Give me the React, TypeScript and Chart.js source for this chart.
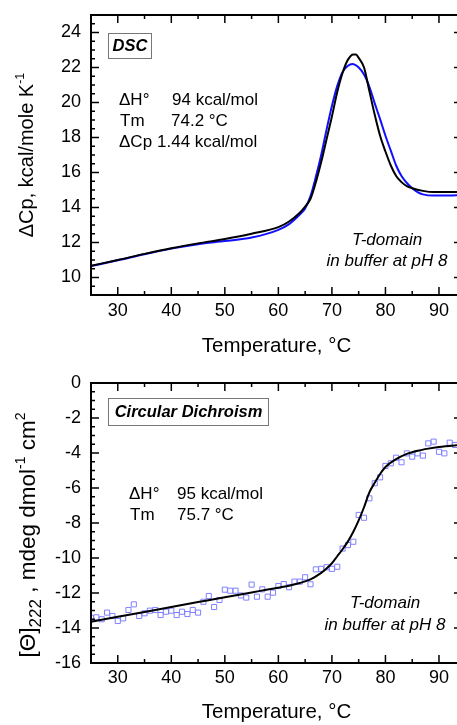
import React, { useEffect, useRef } from 'react';
import { Chart, registerables } from 'chart.js';
Chart.register(...registerables);

const FONT = '"Liberation Sans", Arial, Helvetica, sans-serif';

// ---------- tick labels ----------
const TEMP_TICKS = [30, 40, 50, 60, 70, 80, 90];
const DSC_Y_TICKS = [10, 12, 14, 16, 18, 20, 22, 24];
const CD_Y_TICKS = [-16, -14, -12, -10, -8, -6, -4, -2, 0];

// ---------- DSC: fitted curve (black) ----------
const DSC_FIT_T = [25, 30, 35, 40, 45, 50, 55, 60, 62, 64, 65, 66, 67, 68, 69, 70, 71, 72, 73, 74, 74.5, 75, 76, 77, 78, 79, 80, 81, 82, 83, 84, 85, 87, 89, 91, 94.3];
const DSC_FIT_CP = [10.67, 11.0, 11.35, 11.67, 11.95, 12.2, 12.5, 12.88, 13.2, 13.7, 14.05, 14.5, 15.45, 16.6, 17.9, 19.2, 20.6, 21.7, 22.45, 22.75, 22.75, 22.55, 22.0, 20.65, 19.3, 18.1, 17.2, 16.4, 15.8, 15.45, 15.22, 15.1, 14.95, 14.88, 14.88, 14.9];

// ---------- DSC: measured curve (blue) ----------
const DSC_EXP_T = [25, 30, 35, 40, 45, 50, 55, 60, 62, 64, 65, 66, 67, 68, 69, 70, 71, 72, 73, 73.8, 75, 76, 77, 78, 79, 80, 81, 82, 83, 84, 85, 86, 87, 89, 91, 94.3];
const DSC_EXP_CP = [10.65, 10.98, 11.33, 11.65, 11.9, 12.08, 12.28, 12.72, 13.05, 13.6, 13.95, 14.65, 15.75, 17.0, 18.45, 19.8, 20.95, 21.75, 22.1, 22.2, 22.0, 21.6, 20.9, 19.95, 19.05, 18.1, 17.25, 16.4, 15.8, 15.4, 15.1, 14.88, 14.75, 14.68, 14.68, 14.72];

// ---------- CD: measured points ----------
const CD_T = [25, 26, 27, 28, 29, 30, 31, 32, 33, 34, 35, 36, 37, 38, 39, 40, 41, 42, 43, 44, 45, 46, 47, 48, 49, 50, 51, 52, 53, 54, 55, 56, 57, 58, 59, 60, 61, 62, 63, 64, 65, 66, 67, 68, 69, 70, 71, 72, 73, 74, 75, 76, 77, 78, 79, 80, 81, 82, 83, 84, 85, 86, 87, 88, 89, 90, 91, 92, 93];
const CD_THETA = [-13.42, -13.39, -13.5, -13.12, -13.31, -13.6, -13.45, -12.97, -12.65, -13.31, -13.16, -13.01, -12.97, -13.26, -13.07, -13.01, -13.26, -13.07, -13.2, -12.97, -13.12, -12.5, -12.17, -12.8, -12.4, -11.81, -11.87, -11.87, -12.14, -12.26, -11.52, -12.21, -11.79, -12.21, -11.98, -11.6, -11.49, -11.67, -11.35, -11.35, -11.1, -11.5, -10.65, -10.62, -10.53, -10.62, -10.5, -9.46, -9.26, -9.07, -7.54, -7.7, -6.59, -5.73, -5.39, -4.74, -4.59, -4.27, -4.53, -4.02, -4.21, -4.02, -4.15, -3.45, -3.35, -3.93, -4.02, -3.41, -3.54];

// ---------- CD: fitted curve ----------
const CD_FIT_T = [25, 30, 35, 40, 45, 50, 55, 58, 62, 64, 66, 68, 69, 70, 71, 72, 73, 74, 75, 76, 77, 78, 79, 80, 82, 84, 86, 88, 90, 94.3];
const CD_FIT_THETA = [-13.64, -13.36, -13.08, -12.8, -12.52, -12.24, -11.97, -11.8, -11.58, -11.43, -11.22, -10.85, -10.6, -10.3, -9.9, -9.5, -9.05, -8.5, -7.85, -7.1, -6.25, -5.7, -5.2, -4.8, -4.35, -4.05, -3.87, -3.75, -3.66, -3.53];

const pts = (xs: number[], ys: number[]) => xs.map((x, i) => ({ x, y: ys[i] }));

type Seg = { t: string; size: number; dy?: number };
type TextItem = { t: string; x: number; y: number; font: string; align?: CanvasTextAlign };
type DecoSpec = {
  xMinor: number; xMajor: number; yMinor: number; yMajor: number;
  box: { x: number; y: number; w: number; h: number; text: string };
  texts: TextItem[];
  yTitle: { segs: Seg[]; cx: number; cy: number };
};

function makeDeco(spec: DecoSpec) {
  return {
    id: 'deco',
    afterDraw(chart: any) {
      const { ctx, chartArea: a } = chart;
      const xs = chart.scales.x;
      const ys = chart.scales.y;
      ctx.save();
      ctx.strokeStyle = '#000';
      ctx.lineWidth = 1.5;
      const line = (x1: number, y1: number, x2: number, y2: number) => {
        ctx.beginPath(); ctx.moveTo(x1, y1); ctx.lineTo(x2, y2); ctx.stroke();
      };
      for (let i = Math.ceil(xs.min / spec.xMinor); i * spec.xMinor <= xs.max + 1e-9; i++) {
        const v = i * spec.xMinor;
        const p = xs.getPixelForValue(v);
        if (p - a.left < 2 || a.right - p < 2) continue;
        const major = Math.abs(v / spec.xMajor - Math.round(v / spec.xMajor)) < 1e-6;
        const L = major ? 8 : 4;
        line(p, a.bottom, p, a.bottom - L);
        line(p, a.top, p, a.top + L);
      }
      for (let i = Math.ceil(ys.min / spec.yMinor); i * spec.yMinor <= ys.max + 1e-9; i++) {
        const v = i * spec.yMinor;
        const p = ys.getPixelForValue(v);
        if (p - a.top < 2 || a.bottom - p < 2) continue;
        const major = Math.abs(v / spec.yMajor - Math.round(v / spec.yMajor)) < 1e-6;
        const L = major ? 8 : 4;
        line(a.left, p, a.left + L, p);
        line(a.right, p, a.right - L, p);
      }
      ctx.lineWidth = 2;
      ctx.strokeRect(a.left, a.top, a.right - a.left, a.bottom - a.top);

      const b = spec.box;
      ctx.fillStyle = '#fff';
      ctx.fillRect(b.x, b.y, b.w, b.h);
      ctx.strokeStyle = '#777';
      ctx.lineWidth = 1;
      ctx.strokeRect(b.x + 0.5, b.y + 0.5, b.w, b.h);
      ctx.fillStyle = '#000';
      ctx.font = `italic bold 16.5px ${FONT}`;
      ctx.textAlign = 'center';
      ctx.textBaseline = 'middle';
      ctx.fillText(b.text, b.x + b.w / 2 + 0.5, b.y + b.h / 2 + 1);

      for (const t of spec.texts) {
        ctx.font = t.font;
        ctx.textAlign = t.align || 'left';
        ctx.textBaseline = 'middle';
        ctx.fillText(t.t, t.x, t.y);
      }

      const yt = spec.yTitle;
      ctx.save();
      ctx.translate(yt.cx, yt.cy);
      ctx.rotate(-Math.PI / 2);
      ctx.textAlign = 'left';
      ctx.textBaseline = 'alphabetic';
      let total = 0;
      const widths = yt.segs.map((s) => {
        ctx.font = `${s.size}px ${FONT}`;
        const w = ctx.measureText(s.t).width;
        total += w;
        return w;
      });
      let x = -total / 2;
      yt.segs.forEach((s, i) => {
        ctx.font = `${s.size}px ${FONT}`;
        ctx.fillText(s.t, x, 7 + (s.dy || 0));
        x += widths[i];
      });
      ctx.restore();

      ctx.restore();
    },
  };
}

function baseOptions(yMin: number, yMax: number, yTicks: number[], padTop: number, xHeight: number, xLabelPad: number, xTitlePadBottom: number) {
  return {
    responsive: false,
    animation: false as const,
    events: [],
    layout: { padding: { top: padTop, right: 13, left: 0, bottom: 0 } },
    plugins: { legend: { display: false }, tooltip: { enabled: false }, title: { display: false } },
    scales: {
      x: {
        type: 'linear' as const,
        min: 25,
        max: 94.3,
        grid: { display: false, drawTicks: false },
        border: { display: false },
        afterBuildTicks: (s: any) => { s.ticks = TEMP_TICKS.map((v) => ({ value: v })); },
        afterFit: (s: any) => { s.height = xHeight; s.paddingLeft = 0; s.paddingRight = 0; },
        ticks: { color: '#000', font: { family: FONT, size: 18 }, padding: xLabelPad, maxRotation: 0, autoSkip: false },
        title: { display: true, text: 'Temperature, °C', color: '#000', font: { family: FONT, size: 20.5 }, padding: { top: 0, bottom: xTitlePadBottom } },
      },
      y: {
        type: 'linear' as const,
        min: yMin,
        max: yMax,
        grid: { display: false, drawTicks: false },
        border: { display: false },
        afterBuildTicks: (s: any) => { s.ticks = yTicks.map((v) => ({ value: v })); },
        afterFit: (s: any) => { s.width = 91; s.paddingTop = 0; s.paddingBottom = 0; },
        ticks: { color: '#000', font: { family: FONT, size: 18 }, padding: 10 },
      },
    },
  };
}

function dscConfig(): any {
  return {
    type: 'line',
    data: {
      datasets: [
        { data: pts(DSC_FIT_T, DSC_FIT_CP), borderColor: '#000', borderWidth: 2, pointRadius: 0, cubicInterpolationMode: 'monotone', fill: false },
        { data: pts(DSC_EXP_T, DSC_EXP_CP), borderColor: '#1010ff', borderWidth: 2, pointRadius: 0, cubicInterpolationMode: 'monotone', fill: false },
      ],
    },
    options: baseOptions(9, 25, DSC_Y_TICKS, 15, 67, 5, 3),
    plugins: [
      makeDeco({
        xMinor: 5, xMajor: 10, yMinor: 0.5, yMajor: 2,
        box: { x: 108, y: 33, w: 43, h: 25, text: 'DSC' },
        texts: [
          { t: '\u0394H°', x: 119, y: 100, font: `17px ${FONT}` },
          { t: '94 kcal/mol', x: 172, y: 100, font: `17px ${FONT}` },
          { t: 'Tm', x: 120, y: 121, font: `17px ${FONT}` },
          { t: '74.2 °C', x: 171, y: 121, font: `17px ${FONT}` },
          { t: '\u0394Cp', x: 119, y: 142, font: `17px ${FONT}` },
          { t: '1.44 kcal/mol', x: 157, y: 142, font: `17px ${FONT}` },
          { t: 'T-domain', x: 387, y: 240, font: `italic 17px ${FONT}`, align: 'center' },
          { t: 'in buffer at pH 8', x: 387, y: 261, font: `italic 17px ${FONT}`, align: 'center' },
        ],
        yTitle: {
          cx: 26, cy: 155,
          segs: [
            { t: '\u0394Cp, kcal/mole K', size: 20 },
            { t: '-1', size: 12.5, dy: -9 },
          ],
        },
      }),
    ],
  };
}

function cdConfig(): any {
  return {
    type: 'line',
    data: {
      datasets: [
        { data: pts(CD_FIT_T, CD_FIT_THETA), borderColor: '#000', borderWidth: 2, pointRadius: 0, cubicInterpolationMode: 'monotone', fill: false },
        { data: pts(CD_T, CD_THETA), showLine: false, pointStyle: 'rect', pointRadius: 3.6, borderColor: '#8080ff', backgroundColor: 'rgba(0,0,0,0)', pointBorderWidth: 1, borderWidth: 1 },
      ],
    },
    options: baseOptions(-16, 0, CD_Y_TICKS, 21, 62, 4, 0),
    plugins: [
      makeDeco({
        xMinor: 5, xMajor: 10, yMinor: 0.5, yMajor: 2,
        box: { x: 108, y: 36, w: 160, h: 27, text: 'Circular Dichroism' },
        texts: [
          { t: '\u0394H°', x: 129, y: 132, font: `17px ${FONT}` },
          { t: '95 kcal/mol', x: 177, y: 132, font: `17px ${FONT}` },
          { t: 'Tm', x: 130, y: 153, font: `17px ${FONT}` },
          { t: '75.7 °C', x: 177, y: 153, font: `17px ${FONT}` },
          { t: 'T-domain', x: 385, y: 241, font: `italic 17px ${FONT}`, align: 'center' },
          { t: 'in buffer at pH 8', x: 385, y: 263, font: `italic 17px ${FONT}`, align: 'center' },
        ],
        yTitle: {
          cx: 28, cy: 173,
          segs: [
            { t: '[\u0398]', size: 22.5 },
            { t: '222', size: 17, dy: 6 },
            { t: ' , mdeg dmol', size: 22.5 },
            { t: '-1', size: 14, dy: -10 },
            { t: ' cm', size: 22.5 },
            { t: '2', size: 14, dy: -10 },
          ],
        },
      }),
    ],
  };
}

function ChartCanvas({ make, top, height }: { make: () => any; top: number; height: number }) {
  const ref = useRef<HTMLCanvasElement>(null);
  useEffect(() => {
    const chart = new Chart(ref.current as HTMLCanvasElement, make());
    return () => chart.destroy();
  }, []);
  return (
    <canvas
      ref={ref}
      width={475}
      height={height}
      style={{ position: 'absolute', left: 0, top, width: 475, height, display: 'block' }}
    />
  );
}

export default function App() {
  return (
    <div style={{ position: 'absolute', left: 0, top: 0, width: 457, height: 725, overflow: 'hidden', background: '#fff' }}>
      <ChartCanvas make={dscConfig} top={0} height={362} />
      <ChartCanvas make={cdConfig} top={362} height={363} />
    </div>
  );
}
